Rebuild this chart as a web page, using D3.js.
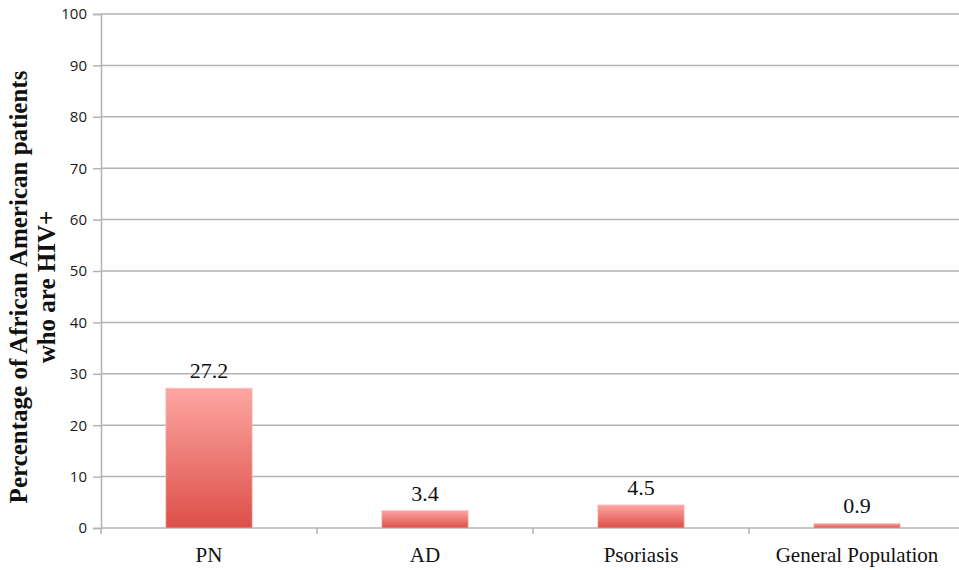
<!DOCTYPE html>
<html>
<head>
<meta charset="utf-8">
<script src="https://cdn.jsdelivr.net/npm/d3@7"></script>
<style>
  html, body { margin: 0; padding: 0; background: #fff; }
  svg { display: block; }
</style>
</head>
<body>
<svg id="chart" width="959" height="570"></svg>
<script>
// HIV+ prevalence among African American patients by condition
const categories = ["PN", "AD", "Psoriasis", "General Population"];
const values = [27.2, 3.4, 4.5, 0.9];
const yTicks = [0, 10, 20, 30, 40, 50, 60, 70, 80, 90, 100];
const yTitleLines = ["Percentage of African American patients", "who are HIV+"];

const svg = d3.select("#chart");
const W = 959, H = 570;
const plot = { left: 101, right: 965, top: 14, bottom: 528 };

const x = d3.scaleBand()
  .domain(categories)
  .range([plot.left, plot.right])
  .paddingInner(0.6)
  .paddingOuter(0.3);

const y = d3.scaleLinear().domain([0, 100]).range([plot.bottom, plot.top]);

// gradient for bars (light top, deeper red bottom)
const defs = svg.append("defs");
const grad = defs.append("linearGradient")
  .attr("id", "barGrad").attr("x1", 0).attr("y1", 0).attr("x2", 0).attr("y2", 1);
grad.append("stop").attr("offset", "0%").attr("stop-color", "#fda6a2");
grad.append("stop").attr("offset", "100%").attr("stop-color", "#dd4f48");

// horizontal gridlines
svg.append("g")
  .selectAll("line")
  .data(yTicks.filter(d => d > 0))
  .join("line")
  .attr("x1", plot.left).attr("x2", W)
  .attr("y1", d => y(d)).attr("y2", d => y(d))
  .attr("stroke", "#b3b3b3").attr("stroke-width", 1.5);

// y axis
const yAxis = svg.append("g")
  .attr("transform", `translate(${plot.left},0)`)
  .call(d3.axisLeft(y).tickValues(yTicks).tickSize(8).tickPadding(6));
yAxis.select(".domain").attr("stroke", "#b3b3b3").attr("stroke-width", 1.5);
yAxis.selectAll(".tick line").attr("stroke", "#b3b3b3").attr("stroke-width", 1.5);
yAxis.selectAll(".tick text")
  .attr("font-family", "'Open Sans', Lato, sans-serif")
  .attr("font-size", 15)
  .attr("fill", "#1a1a1a");

// x axis baseline and category separators
const xAxisG = svg.append("g");
xAxisG.append("line")
  .attr("x1", plot.left).attr("x2", W)
  .attr("y1", plot.bottom).attr("y2", plot.bottom)
  .attr("stroke", "#b3b3b3").attr("stroke-width", 1.5);
const step = x.step();
const bounds = d3.range(categories.length + 1).map(i => plot.left + i * step);
xAxisG.selectAll("line.sep")
  .data(bounds.filter(b => b < W))
  .join("line")
  .attr("class", "sep")
  .attr("x1", d => d).attr("x2", d => d)
  .attr("y1", plot.bottom).attr("y2", plot.bottom + 6)
  .attr("stroke", "#b3b3b3").attr("stroke-width", 1.5);

// category labels
xAxisG.selectAll("text")
  .data(categories)
  .join("text")
  .attr("x", d => x(d) + x.bandwidth() / 2)
  .attr("y", 562)
  .attr("text-anchor", "middle")
  .attr("font-family", "'Liberation Serif', 'Times New Roman', serif")
  .attr("font-size", 21)
  .attr("fill", "#111")
  .text(d => d);

// bars
const data = categories.map((c, i) => ({ c, v: values[i] }));
svg.append("g")
  .selectAll("rect")
  .data(data)
  .join("rect")
  .attr("x", d => x(d.c))
  .attr("y", d => y(d.v))
  .attr("width", x.bandwidth())
  .attr("height", d => y(0) - y(d.v))
  .attr("fill", "url(#barGrad)")
  .attr("stroke", "rgba(240,200,198,0.6)")
  .attr("stroke-width", 1);

// value labels
svg.append("g")
  .selectAll("text")
  .data(data)
  .join("text")
  .attr("x", d => x(d.c) + x.bandwidth() / 2)
  .attr("y", d => y(d.v) - 10)
  .attr("text-anchor", "middle")
  .attr("font-family", "'Liberation Serif', 'Times New Roman', serif")
  .attr("font-size", 22)
  .attr("fill", "#111")
  .text(d => d.v.toFixed(1));

// y axis title
const title = svg.append("text")
  .attr("transform", "translate(27,287) rotate(-90)")
  .attr("text-anchor", "middle")
  .attr("font-family", "'Liberation Serif', 'Times New Roman', serif")
  .attr("font-weight", "bold")
  .attr("font-size", 25)
  .attr("fill", "#111");
title.selectAll("tspan")
  .data(yTitleLines)
  .join("tspan")
  .attr("x", 0)
  .attr("dy", (d, i) => i === 0 ? 0 : 28)
  .text(d => d);
</script>
</body>
</html>
